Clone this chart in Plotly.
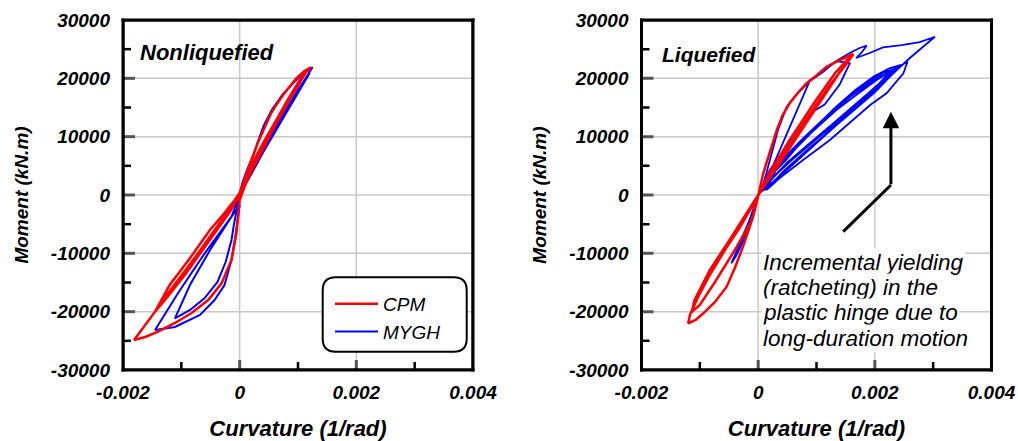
import plotly.graph_objects as go

# ---------------- DATA (curvature in 1/rad, moment in kN.m) ----------------
nl_cpm_curv = [
    0.0, 0.10e-3, 0.20e-3, 0.31e-3, 0.43e-3, 0.54e-3, 0.65e-3, 0.77e-3, 0.97e-3, 1.11e-3, 1.225e-3,
    1.11e-3, 1.03e-3, 0.82e-3, 0.63e-3, 0.43e-3, 0.22e-3, 0.085e-3, 0.0,
    -0.085e-3, -0.26e-3, -0.51e-3, -0.85e-3, -1.20e-3, -1.45e-3, -1.71e-3, -1.81e-3,
    -1.62e-3, -1.40e-3, -1.11e-3, -0.83e-3, -0.54e-3, -0.31e-3, -0.14e-3, -0.056e-3, 0.0,
    0.18e-3, 0.40e-3, 0.70e-3, 0.95e-3, 1.16e-3, 1.02e-3, 0.80e-3, 0.52e-3, 0.25e-3, 0.0,
    -0.17e-3, -0.34e-3, -0.68e-3, -1.11e-3, -1.45e-3, -1.28e-3, -0.94e-3, -0.51e-3, -0.17e-3, 0.0,
    -0.12e-3, -0.40e-3, -0.75e-3, -1.05e-3, -1.30e-3, -1.15e-3, -0.82e-3, -0.45e-3, -0.10e-3, 0.0,
]
nl_cpm_mom = [
    340, 3260, 6000, 8900, 11700, 14050, 15770, 17480, 20000, 21250, 21900,
    20740, 19700, 16280, 12860, 9430, 5490, 2570, 340,
    -860, -3090, -6000, -10800, -15430, -20000, -23650, -24860,
    -24340, -23430, -21940, -20280, -18000, -15140, -11140, -6570, -860,
    4100, 8300, 13600, 17900, 21400, 19600, 15600, 10300, 5000, 0,
    -2910, -5140, -9770, -15430, -20000, -18000, -13710, -7710, -2910, 0,
    -1700, -5600, -10500, -14500, -17800, -16200, -11800, -6600, -1600, 0,
]
nl_mygh_curv = [
    0.0, 0.05e-3, 0.14e-3, 0.22e-3, 0.31e-3, 0.41e-3, 0.55e-3, 0.74e-3, 0.97e-3, 1.15e-3, 1.25e-3,
    1.03e-3, 0.77e-3, 0.43e-3, 0.17e-3, 0.0,
    -0.14e-3, -0.60e-3, -1.05e-3, -1.45e-3,
    -1.11e-3, -0.68e-3, -0.43e-3, -0.26e-3, -0.14e-3, -0.07e-3, 0.0,
    -0.14e-3, -0.50e-3, -0.85e-3, -1.11e-3,
    -0.85e-3, -0.60e-3, -0.38e-3, -0.24e-3, -0.14e-3, -0.10e-3, 0.0,
    0.10e-3, 0.40e-3, 0.80e-3, 1.20e-3, 1.00e-3, 0.60e-3, 0.25e-3, 0.0,
]
nl_mygh_mom = [
    0, 2230, 4630, 6340, 9080, 11830, 14570, 17310, 19710, 21250, 21890,
    18340, 14230, 8230, 3430, 0,
    -3720, -10000, -16700, -23140,
    -22630, -20570, -18000, -15430, -11140, -6860, -1710,
    -3720, -9300, -15400, -21140,
    -19700, -17660, -14910, -11490, -7710, -5140, 0,
    1900, 7300, 14000, 20900, 18100, 11000, 4500, 0,
]

lq_cpm_curv = [
    0.0, 0.03e-3, 0.08e-3, 0.14e-3, 0.22e-3, 0.32e-3, 0.42e-3, 0.54e-3, 0.68e-3, 0.83e-3, 0.99e-3, 1.17e-3, 1.40e-3, 1.63e-3,
    1.54e-3, 1.23e-3, 0.97e-3, 0.77e-3, 0.54e-3, 0.32e-3, 0.13e-3, 0.0,
    -0.14e-3, -0.31e-3, -0.57e-3, -0.83e-3, -1.03e-3, -1.17e-3, -1.20e-3,
    -1.07e-3, -0.94e-3, -0.74e-3, -0.54e-3, -0.40e-3, -0.26e-3, -0.16e-3, -0.086e-3, 0.0,
    0.20e-3, 0.54e-3, 0.97e-3, 1.32e-3, 1.57e-3, 1.40e-3, 1.06e-3, 0.72e-3, 0.37e-3, 0.0,
    -0.18e-3, -0.49e-3, -0.83e-3, -1.09e-3, -1.14e-3, -1.00e-3, -0.74e-3, -0.40e-3, -0.11e-3, 0.0,
]
lq_cpm_mom = [
    -170, 1420, 3430, 5430, 8060, 11140, 13710, 15720, 17480, 19150, 20400, 21990, 23140, 24170,
    22800, 18850, 15080, 12000, 8400, 4970, 2230, -170,
    -2570, -5480, -9430, -13710, -17480, -20570, -21990,
    -21430, -20280, -18340, -15720, -12510, -8860, -6000, -3720, -170,
    3940, 9430, 15940, 20910, 23650, 21080, 15940, 10630, 5480, 0,
    -2910, -7710, -12860, -18000, -20050, -18850, -14910, -9430, -4290, 0,
]
lq_mygh_curv = [
    0.0, 0.08e-3, 0.14e-3, 0.20e-3, 0.26e-3, 0.34e-3, 0.49e-3, 0.66e-3, 0.89e-3, 1.11e-3, 1.34e-3, 1.57e-3, 1.74e-3, 1.86e-3,
    1.78e-3, 1.68e-3,
    1.90e-3, 2.14e-3, 2.46e-3, 2.77e-3, 3.03e-3,
    2.86e-3, 2.60e-3, 2.34e-3, 2.09e-3, 1.74e-3, 1.40e-3, 1.06e-3, 0.72e-3, 0.37e-3, 0.11e-3,
    0.20e-3, 0.48e-3, 0.77e-3, 1.06e-3, 1.34e-3, 1.68e-3, 2.03e-3, 2.31e-3, 2.56e-3,
    2.49e-3, 2.20e-3, 1.92e-3, 1.63e-3, 1.23e-3, 0.77e-3, 0.37e-3, 0.14e-3,
    0.30e-3, 0.62e-3, 0.95e-3, 1.30e-3, 1.65e-3, 1.98e-3, 2.25e-3, 2.45e-3,
    2.30e-3, 2.00e-3, 1.65e-3, 1.25e-3, 0.85e-3, 0.45e-3, 0.15e-3,
    0.35e-3, 0.70e-3, 1.05e-3, 1.45e-3, 1.85e-3, 2.15e-3, 2.38e-3,
    2.20e-3, 1.85e-3, 1.45e-3, 1.00e-3, 0.60e-3, 0.25e-3, 0.08e-3,
    0.40e-3, 0.80e-3, 1.20e-3, 1.60e-3, 2.00e-3, 2.28e-3,
    2.10e-3, 1.70e-3, 1.30e-3, 0.90e-3, 0.50e-3, 0.15e-3, 0.05e-3,
    0.25e-3, 0.58e-3, 0.92e-3, 1.28e-3, 1.62e-3, 1.95e-3, 2.22e-3, 2.42e-3,
    2.26e-3, 1.96e-3, 1.60e-3, 1.20e-3, 0.82e-3, 0.42e-3, 0.12e-3,
    0.33e-3, 0.66e-3, 1.00e-3, 1.38e-3, 1.76e-3, 2.10e-3, 2.34e-3,
    2.16e-3, 1.80e-3, 1.40e-3, 0.96e-3, 0.56e-3, 0.22e-3, 0.06e-3,
    0.38e-3, 0.76e-3, 1.14e-3, 1.54e-3, 1.94e-3, 2.24e-3,
    2.05e-3, 1.66e-3, 1.26e-3, 0.86e-3, 0.47e-3, 0.14e-3, 0.0,
    0.20e-3, 0.55e-3, 0.89e-3, 1.11e-3, 1.34e-3, 1.57e-3,
    1.40e-3, 1.14e-3, 0.89e-3, 0.55e-3, 0.20e-3, 0.0,
    -0.18e-3, -0.31e-3, -0.46e-3, -0.37e-3, -0.23e-3, -0.11e-3, 0.0,
    -0.15e-3, -0.28e-3, -0.40e-3, -0.30e-3, -0.15e-3, 0.0,
]
lq_mygh_mom = [
    0, 1710, 3720, 6000, 8570, 11140, 15130, 17310, 19540, 21080, 22970, 24340, 25200, 25590,
    24510, 23480,
    24300, 25300, 25700, 26200, 27130,
    25710, 23480, 21080, 18680, 15430, 12510, 9430, 6340, 3090, 860,
    3140, 6000, 9430, 12000, 14570, 17140, 19710, 21430, 22850,
    20860, 17430, 15430, 12860, 9430, 6000, 2910, 860,
    4300, 8000, 11300, 14800, 17900, 20300, 21700, 22300,
    20700, 17600, 14600, 11200, 7800, 4200, 1100,
    5200, 9000, 12300, 15800, 19000, 21000, 21700,
    19800, 16600, 13200, 9600, 6200, 3000, 700,
    6000, 10000, 13700, 17000, 19800, 21200,
    19300, 15800, 12400, 9000, 5600, 1900, 500,
    3700, 7300, 10800, 14300, 17500, 20000, 21600, 22100,
    20400, 17300, 14200, 10800, 7300, 3800, 1000,
    4800, 8600, 11800, 15400, 18600, 20800, 21500,
    19500, 16300, 12800, 9300, 5900, 2700, 600,
    5600, 9600, 13200, 16600, 19500, 20900,
    18900, 15400, 12000, 8600, 5200, 1700, 0,
    3770, 11700, 19710, 21080, 22970, 22570,
    19000, 15500, 14000, 9000, 4290, 0,
    -5140, -8230, -11710, -10290, -7370, -3940, 0,
    -4300, -7300, -10300, -8200, -4400, 0,
]

x_range = [-0.002, 0.004]
y_range = [-30000, 30000]
x_tick_vals = [-0.002, 0, 0.002, 0.004]
x_tick_text = ["-0.002", "0", "0.002", "0.004"]
x_minor_vals = [-0.001, 0.001, 0.003]
x_grid_vals = [0, 0.002]
y_tick_vals = [-30000, -20000, -10000, 0, 10000, 20000, 30000]
y_tick_text = ["-30000", "-20000", "-10000", "0", "10000", "20000", "30000"]
y_minor_vals = [-25000, -15000, -5000, 5000, 15000, 25000]
y_grid_vals = [-20000, -10000, 0, 10000, 20000]

W, H = 1018, 441
PANEL_LEFT = [123.0, 641.5]   # px
PANEL_TOP, PANEL_BOTTOM = 20.0, 370.0
PANEL_W = 350.0
RED = "#ff0000"
BLUE = "#0000ff"
GRID = "#c8c8c8"
FONT = "Liberation Sans, Arial, sans-serif"
X_PER_PX = (x_range[1] - x_range[0]) / PANEL_W
Y_PER_PX = (y_range[1] - y_range[0]) / (PANEL_BOTTOM - PANEL_TOP)

fig = go.Figure()


def guide_segments(kind):
    """Build gridline / tick polylines (None separated) from the tick value lists."""
    xs, ys = [], []
    if kind == "grid":
        for v in x_grid_vals:
            xs += [v, v, None]
            ys += [y_range[0], y_range[1], None]
        for v in y_grid_vals:
            xs += [x_range[0], x_range[1], None]
            ys += [v, v, None]
    elif kind == "major":
        for v in y_tick_vals[1:-1]:
            xs += [x_range[0], x_range[0] + 12 * X_PER_PX, None]
            ys += [v, v, None]
        for v in x_grid_vals:
            xs += [v, v, None]
            ys += [y_range[0], y_range[0] + 10 * Y_PER_PX, None]
    elif kind == "minor":
        for v in y_minor_vals:
            xs += [x_range[0], x_range[0] + 8 * X_PER_PX, None]
            ys += [v, v, None]
        for v in x_minor_vals:
            xs += [v, v, None]
            ys += [y_range[0], y_range[0] + 8 * Y_PER_PX, None]
    elif kind == "frame":
        xs = [x_range[0], x_range[1], x_range[1], x_range[0], x_range[0]]
        ys = [y_range[0], y_range[0], y_range[1], y_range[1], y_range[0]]
    return xs, ys


# gridlines underneath the curves
for xa, ya in (("x", "y"), ("x2", "y2")):
    gx, gy = guide_segments("grid")
    fig.add_trace(go.Scatter(x=gx, y=gy, mode="lines", line=dict(color=GRID, width=1.5),
                             xaxis=xa, yaxis=ya, showlegend=False, hoverinfo="skip"))

fig.add_trace(go.Scatter(x=nl_mygh_curv, y=nl_mygh_mom, mode="lines", name="MYGH",
                         line=dict(color=BLUE, width=2), xaxis="x", yaxis="y",
                         legendgroup="m", legendrank=2))
fig.add_trace(go.Scatter(x=nl_cpm_curv, y=nl_cpm_mom, mode="lines", name="CPM",
                         line=dict(color=RED, width=2.5), xaxis="x", yaxis="y",
                         legendgroup="c", legendrank=1))
fig.add_trace(go.Scatter(x=lq_mygh_curv, y=lq_mygh_mom, mode="lines", name="MYGH",
                         line=dict(color=BLUE, width=1.8), xaxis="x2", yaxis="y2",
                         legendgroup="m", showlegend=False))
fig.add_trace(go.Scatter(x=lq_cpm_curv, y=lq_cpm_mom, mode="lines", name="CPM",
                         line=dict(color=RED, width=2.5), xaxis="x2", yaxis="y2",
                         legendgroup="c", showlegend=False))

# ticks and frame on top
for xa, ya in (("x", "y"), ("x2", "y2")):
    tx, ty = guide_segments("major")
    fig.add_trace(go.Scatter(x=tx, y=ty, mode="lines", line=dict(color="#555555", width=3),
                             xaxis=xa, yaxis=ya, showlegend=False, hoverinfo="skip"))
    tx, ty = guide_segments("minor")
    fig.add_trace(go.Scatter(x=tx, y=ty, mode="lines", line=dict(color="black", width=2.5),
                             xaxis=xa, yaxis=ya, showlegend=False, hoverinfo="skip"))
    fx, fy = guide_segments("frame")
    fig.add_trace(go.Scatter(x=fx, y=fy, mode="lines", line=dict(color="black", width=3),
                             xaxis=xa, yaxis=ya, showlegend=False, hoverinfo="skip",
                             cliponaxis=False))


def px_x(p):
    return p / W


def px_y(p):
    return 1 - p / H


tickfont = dict(family=FONT, size=19, color="black", weight="bold", style="italic")
titlefont = dict(family=FONT, size=22, color="black", weight="bold", style="italic")


def xaxis_cfg(domain, anchor):
    return dict(
        domain=domain, anchor=anchor, range=x_range, automargin=False,
        tickmode="array", tickvals=x_tick_vals, ticktext=x_tick_text,
        ticks="", showgrid=False, showline=False, zeroline=False,
        tickfont=tickfont, ticklabelstandoff=9,
        title=dict(text="Curvature (1/rad)", font=titlefont, standoff=22),
    )


def yaxis_cfg(domain, anchor):
    return dict(
        domain=domain, anchor=anchor, range=y_range, automargin=False,
        tickmode="array", tickvals=y_tick_vals, ticktext=y_tick_text,
        ticks="", showgrid=False, showline=False, zeroline=False,
        tickfont=tickfont, ticklabelstandoff=12,
        title=dict(text="Moment (kN.m)", font=dict(family=FONT, size=19, color="black", weight="bold", style="italic"),
                   standoff=17),
    )


ydom = [px_y(PANEL_BOTTOM), px_y(PANEL_TOP)]
fig.update_layout(
    width=W, height=H, margin=dict(l=0, r=0, t=0, b=0),
    paper_bgcolor="white", plot_bgcolor="rgba(0,0,0,0)",
    xaxis=xaxis_cfg([px_x(PANEL_LEFT[0]), px_x(PANEL_LEFT[0] + PANEL_W)], "y"),
    yaxis=yaxis_cfg(ydom, "x"),
    xaxis2=xaxis_cfg([px_x(PANEL_LEFT[1]), px_x(PANEL_LEFT[1] + PANEL_W)], "y2"),
    yaxis2=yaxis_cfg(ydom, "x2"),
    showlegend=True,
    legend=dict(x=px_x(330), y=px_y(285), xanchor="left", yanchor="top",
                bgcolor="rgba(0,0,0,0)", borderwidth=0, itemwidth=43,
                font=dict(family=FONT, size=19, color="black", style="italic"),
                tracegroupgap=0),
)


def bar_px(x0, y0, x1, y1, color, layer):
    fig.add_shape(type="rect", xref="paper", yref="paper",
                  x0=px_x(x0), y0=px_y(y0), x1=px_x(x1), y1=px_y(y1),
                  line=dict(width=0), fillcolor=color, layer=layer)


for left in PANEL_LEFT:
    right = left + PANEL_W
    bar_px(left - 1.5, PANEL_TOP - 1.5, right + 1.5, PANEL_TOP + 1.5, "black", "above")
    bar_px(left - 1.5, PANEL_BOTTOM - 1.5, right + 1.5, PANEL_BOTTOM + 1.5, "black", "above")
    bar_px(left - 1.5, PANEL_TOP - 1.5, left + 1.5, PANEL_BOTTOM + 1.5, "black", "above")
    bar_px(right - 1.5, PANEL_TOP - 1.5, right + 1.5, PANEL_BOTTOM + 1.5, "black", "above")


def rounded_rect(x0, y0, x1, y1, r):
    def P(a, b):
        return f"{px_x(a):.5f},{px_y(b):.5f}"
    return (f"M {P(x0 + r, y0)} L {P(x1 - r, y0)} Q {P(x1, y0)} {P(x1, y0 + r)} "
            f"L {P(x1, y1 - r)} Q {P(x1, y1)} {P(x1 - r, y1)} "
            f"L {P(x0 + r, y1)} Q {P(x0, y1)} {P(x0, y1 - r)} "
            f"L {P(x0, y0 + r)} Q {P(x0, y0)} {P(x0 + r, y0)} Z")


fig.add_shape(type="path", xref="paper", yref="paper",
              path=rounded_rect(322.7, 277.3, 466.7, 351.7, 13),
              line=dict(color="black", width=2), fillcolor="white", layer="above")

fig.add_annotation(text="Nonliquefied", xref="paper", yref="paper", x=px_x(138), y=px_y(52),
                   xanchor="left", yanchor="middle", showarrow=False,
                   font=dict(family=FONT, size=22, color="black", weight="bold", style="italic"))
fig.add_annotation(text="Liquefied", xref="paper", yref="paper", x=px_x(660), y=px_y(55),
                   xanchor="left", yanchor="middle", showarrow=False,
                   font=dict(family=FONT, size=21, color="black", weight="bold", style="italic"))

note_lines = ["Incremental yielding", "(ratcheting) in the", "plastic hinge due to", "long-duration motion"]
for i, t in enumerate(note_lines):
    fig.add_annotation(text=t, xref="paper", yref="paper", x=px_x(761), y=px_y(262 + 25.4 * i),
                       xanchor="left", yanchor="middle", showarrow=False, bgcolor="white",
                       font=dict(family=FONT, size=22.5, color="black", style="italic"))

fig.add_shape(type="line", xref="x2", yref="y2", x0=1.458e-3, y0=-6290, x1=2.276e-3, y1=1714,
              line=dict(color="black", width=3))
fig.add_annotation(x=2.276e-3, y=14280, ax=2.276e-3, ay=1600, xref="x2", yref="y2",
                   axref="x2", ayref="y2", showarrow=True, arrowhead=2, arrowsize=1.1,
                   arrowwidth=3, arrowcolor="black", text="")

fig.write_html("out.html")
